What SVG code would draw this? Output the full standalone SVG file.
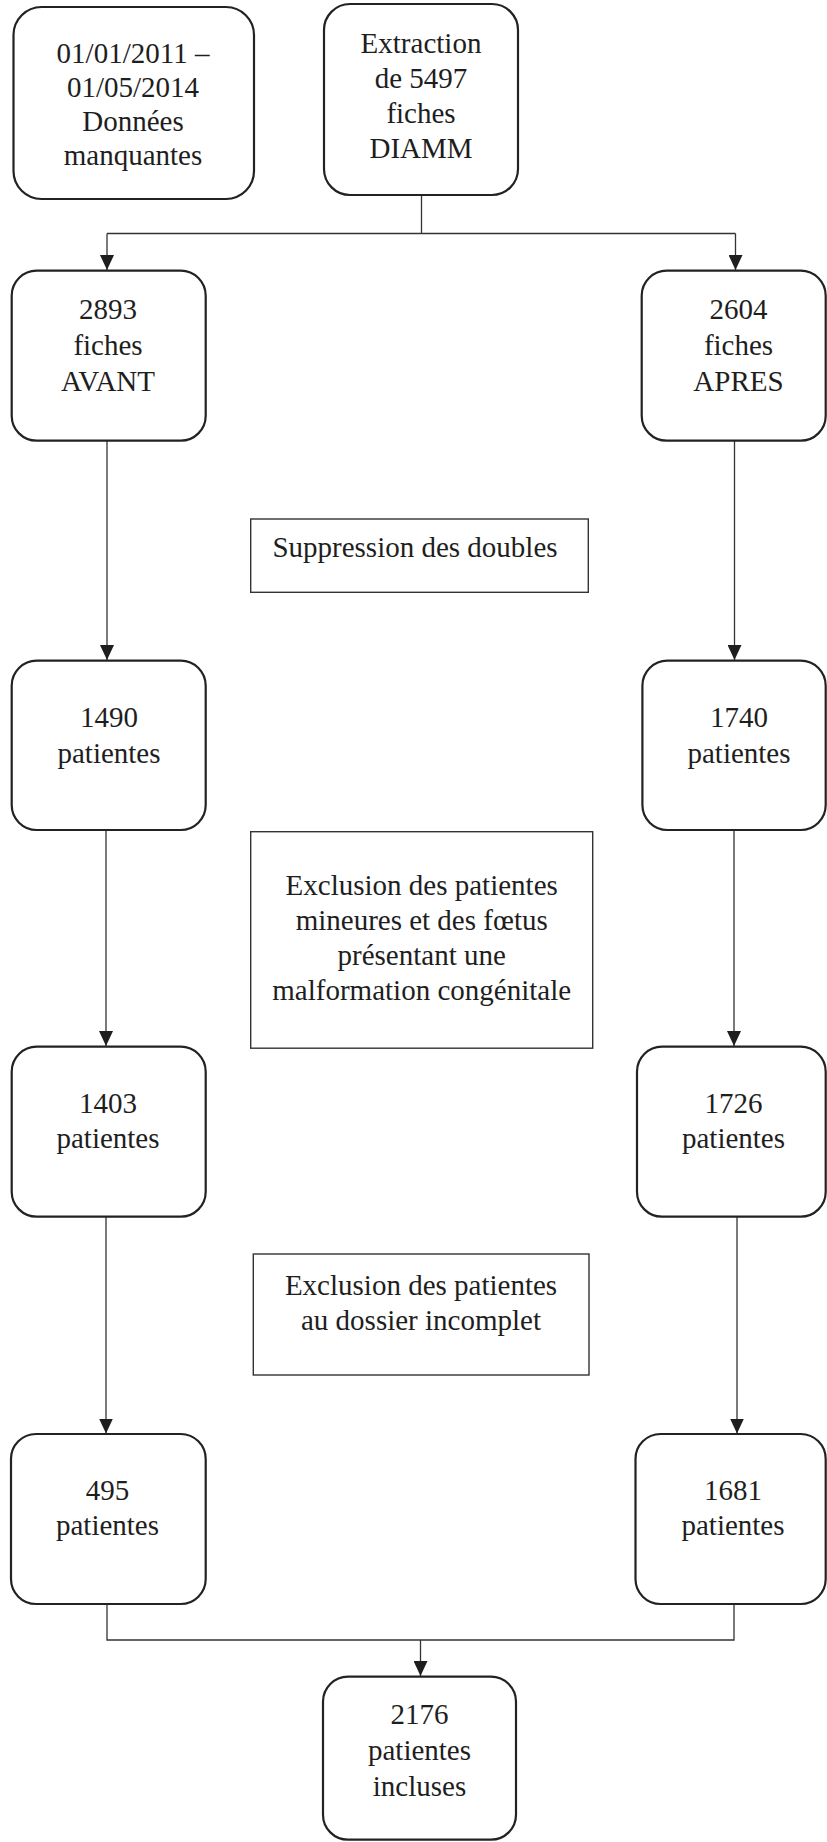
<svg xmlns="http://www.w3.org/2000/svg" width="827" height="1842" viewBox="0 0 827 1842">
<defs>
<style>
.node{fill:#fff;stroke:#222;stroke-width:2.2}
.note{fill:#fff;stroke:#333;stroke-width:1.4}
.t{font-family:"Liberation Serif","Times New Roman",serif;font-size:29px;fill:#1e1e1e;text-anchor:middle}
.c{fill:none;stroke:#333;stroke-width:1.3}
</style>
<marker id="ah" markerUnits="userSpaceOnUse" markerWidth="15" markerHeight="14" refX="15" refY="7" orient="auto">
<path d="M0,0 L15,7 L0,14 z" fill="#1e1e1e"/>
</marker>
</defs>
<rect width="827" height="1842" fill="#fff"/>

<g id="connectors">
<path class="c" d="M421.5,195 V233.5"/>
<path class="c" d="M107,233.5 H735.5"/>
<path class="c" d="M107,233.5 V270" marker-end="url(#ah)"/>
<path class="c" d="M735.5,233.5 V270" marker-end="url(#ah)"/>
<path class="c" d="M107,441 V660" marker-end="url(#ah)"/>
<path class="c" d="M734.5,441 V660" marker-end="url(#ah)"/>
<path class="c" d="M106,830 V1046" marker-end="url(#ah)"/>
<path class="c" d="M734,830 V1046" marker-end="url(#ah)"/>
<path class="c" d="M106,1217 V1433.5" marker-end="url(#ah)"/>
<path class="c" d="M737,1217 V1433.5" marker-end="url(#ah)"/>
<path class="c" d="M107,1604 V1640 H734 V1604"/>
<path class="c" d="M420.5,1640 V1676" marker-end="url(#ah)"/>
</g>

<g id="n_dates">
<rect class="node" x="13.5" y="7" width="240.5" height="192" rx="28"/>
<text class="t" x="133" y="63">01/01/2011 –</text>
<text class="t" x="133" y="97">01/05/2014</text>
<text class="t" x="133" y="131">Données</text>
<text class="t" x="133" y="165">manquantes</text>
</g>

<g id="n_extraction">
<rect class="node" x="324" y="4" width="194" height="191" rx="26"/>
<text class="t" x="421" y="53">Extraction</text>
<text class="t" x="421" y="88">de 5497</text>
<text class="t" x="421" y="123">fiches</text>
<text class="t" x="421" y="158">DIAMM</text>
</g>

<g id="n_avant">
<rect class="node" x="11.7" y="270.7" width="194" height="170" rx="25"/>
<text class="t" x="108" y="319">2893</text>
<text class="t" x="108" y="355">fiches</text>
<text class="t" x="108" y="391">AVANT</text>
</g>

<g id="n_apres">
<rect class="node" x="641.7" y="270.7" width="184" height="170" rx="25"/>
<text class="t" x="738.5" y="319">2604</text>
<text class="t" x="738.5" y="355">fiches</text>
<text class="t" x="738.5" y="391">APRES</text>
</g>

<g id="n_suppression">
<rect class="note" x="250.7" y="519" width="337.6" height="73.3"/>
<text class="t" x="415" y="556.5">Suppression des doubles</text>
</g>

<g id="n_1490">
<rect class="node" x="11.7" y="660.7" width="194" height="169.3" rx="25"/>
<text class="t" x="109" y="727">1490</text>
<text class="t" x="109" y="763">patientes</text>
</g>

<g id="n_1740">
<rect class="node" x="642.4" y="660.7" width="183.3" height="169.3" rx="25"/>
<text class="t" x="739" y="727">1740</text>
<text class="t" x="739" y="763">patientes</text>
</g>

<g id="n_exclusion1">
<rect class="note" x="250.7" y="831.7" width="342" height="216.5"/>
<text class="t" x="421.7" y="895">Exclusion des patientes</text>
<text class="t" x="421.7" y="930">mineures et des fœtus</text>
<text class="t" x="421.7" y="965">présentant une</text>
<text class="t" x="421.7" y="1000">malformation congénitale</text>
</g>

<g id="n_1403">
<rect class="node" x="11.7" y="1046.7" width="194" height="170" rx="25"/>
<text class="t" x="108" y="1113">1403</text>
<text class="t" x="108" y="1148">patientes</text>
</g>

<g id="n_1726">
<rect class="node" x="637" y="1046.7" width="188.7" height="170" rx="25"/>
<text class="t" x="733.5" y="1113">1726</text>
<text class="t" x="733.5" y="1148">patientes</text>
</g>

<g id="n_exclusion2">
<rect class="note" x="253.3" y="1254" width="335.7" height="121"/>
<text class="t" x="421" y="1295">Exclusion des patientes</text>
<text class="t" x="421" y="1330">au dossier incomplet</text>
</g>

<g id="n_495">
<rect class="node" x="11" y="1434" width="194.7" height="170" rx="25"/>
<text class="t" x="107.5" y="1500">495</text>
<text class="t" x="107.5" y="1535">patientes</text>
</g>

<g id="n_1681">
<rect class="node" x="635.5" y="1434" width="190.2" height="170" rx="25"/>
<text class="t" x="733" y="1500">1681</text>
<text class="t" x="733" y="1535">patientes</text>
</g>

<g id="n_2176">
<rect class="node" x="323" y="1676.7" width="193" height="163" rx="25"/>
<text class="t" x="419.5" y="1724">2176</text>
<text class="t" x="419.5" y="1760">patientes</text>
<text class="t" x="419.5" y="1796">incluses</text>
</g>
</svg>
